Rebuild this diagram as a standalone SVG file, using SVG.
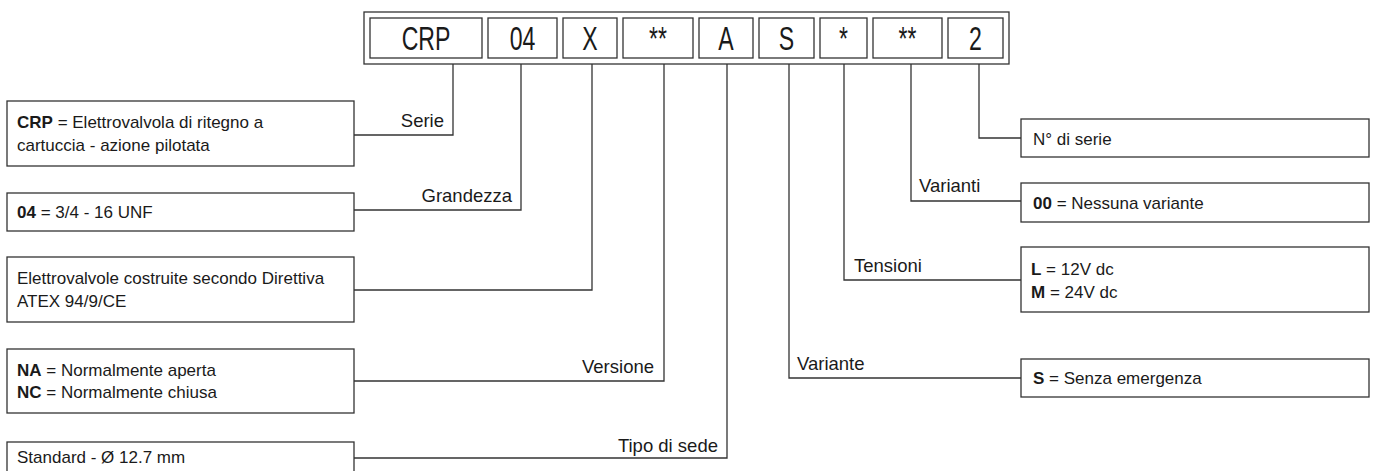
<svg xmlns="http://www.w3.org/2000/svg" width="1375" height="471" viewBox="0 0 1375 471">
<style>
.bx{fill:#fff;stroke:#333;stroke-width:1.3}
.ln{fill:none;stroke:#333;stroke-width:1.3}
.code{font-family:"Liberation Sans",Arial,sans-serif;font-size:33px;fill:#1a1a1a;text-anchor:middle}
.t{font-family:"Liberation Sans",Arial,sans-serif;font-size:17px;fill:#1a1a1a}
.lb{font-family:"Liberation Sans",Arial,sans-serif;font-size:18.5px;fill:#1a1a1a}
.e{text-anchor:end}
.b{font-weight:bold}
</style>
<rect x="0" y="0" width="1375" height="471" fill="#fff"/>
<g id="code">
<rect class="bx" x="364" y="12" width="645" height="52"/>
<rect class="bx" x="370" y="18" width="112" height="40"/>
<rect class="bx" x="488" y="18" width="69" height="40"/>
<rect class="bx" x="563" y="18" width="54" height="40"/>
<rect class="bx" x="623" y="18" width="70" height="40"/>
<rect class="bx" x="699" y="18" width="54" height="40"/>
<rect class="bx" x="759" y="18" width="55" height="40"/>
<rect class="bx" x="820" y="18" width="47" height="40"/>
<rect class="bx" x="873" y="18" width="69" height="40"/>
<rect class="bx" x="948" y="18" width="55" height="40"/>
<text class="code" transform="translate(426,50) scale(0.7,1)">CRP</text>
<text class="code" transform="translate(522.5,50) scale(0.7,1)">04</text>
<text class="code" transform="translate(590,50) scale(0.7,1)">X</text>
<text class="code" transform="translate(658,50) scale(0.7,1)">**</text>
<text class="code" transform="translate(726,50) scale(0.7,1)">A</text>
<text class="code" transform="translate(786.5,50) scale(0.7,1)">S</text>
<text class="code" transform="translate(843.5,50) scale(0.7,1)">*</text>
<text class="code" transform="translate(907.5,50) scale(0.7,1)">**</text>
<text class="code" transform="translate(975.5,50) scale(0.7,1)">2</text>
</g>
<g id="connectors">
<polyline class="ln" points="453,64 453,135 354,135"/>
<polyline class="ln" points="521,64 521,210 354,210"/>
<polyline class="ln" points="592,64 592,290 354,290"/>
<polyline class="ln" points="664,64 664,381 354,381"/>
<polyline class="ln" points="727,64 727,458 354,458"/>
<polyline class="ln" points="789,64 789,378 1021,378"/>
<polyline class="ln" points="844,64 844,280 1021,280"/>
<polyline class="ln" points="911,64 911,201 1021,201"/>
<polyline class="ln" points="979,64 979,138 1021,138"/>
<text class="lb e" x="444" y="127">Serie</text>
<text class="lb e" x="512" y="202">Grandezza</text>
<text class="lb e" x="654" y="373">Versione</text>
<text class="lb e" x="718" y="452">Tipo di sede</text>
<text class="lb" x="797" y="370">Variante</text>
<text class="lb" x="854" y="272">Tensioni</text>
<text class="lb" x="919" y="192">Varianti</text>
</g>
<g id="serie">
<rect class="bx" x="7" y="101" width="347" height="65"/>
<text class="t" x="17" y="128"><tspan class="b">CRP</tspan> = Elettrovalvola di ritegno a</text>
<text class="t" x="17" y="151">cartuccia - azione pilotata</text>
</g>
<g id="grandezza">
<rect class="bx" x="7" y="193" width="347" height="38"/>
<text class="t" x="17" y="218"><tspan class="b">04</tspan> = 3/4 - 16 UNF</text>
</g>
<g id="atex">
<rect class="bx" x="7" y="257" width="347" height="65"/>
<text class="t" x="17" y="284">Elettrovalvole costruite secondo Direttiva</text>
<text class="t" x="17" y="307">ATEX 94/9/CE</text>
</g>
<g id="versione">
<rect class="bx" x="7" y="349" width="347" height="64"/>
<text class="t" x="17" y="376"><tspan class="b">NA</tspan> = Normalmente aperta</text>
<text class="t" x="17" y="398"><tspan class="b">NC</tspan> = Normalmente chiusa</text>
</g>
<g id="sede">
<rect class="bx" x="7" y="442" width="347" height="40"/>
<text class="t" x="17" y="463">Standard - Ø 12.7 mm</text>
</g>
<g id="nserie">
<rect class="bx" x="1021" y="119" width="348" height="38"/>
<text class="t" x="1033" y="145">N° di serie</text>
</g>
<g id="varianti">
<rect class="bx" x="1021" y="183" width="348" height="39"/>
<text class="t" x="1033" y="209"><tspan class="b">00</tspan> = Nessuna variante</text>
</g>
<g id="tensioni">
<rect class="bx" x="1021" y="247" width="348" height="65"/>
<text class="t" x="1031" y="275"><tspan class="b">L</tspan> = 12V dc</text>
<text class="t" x="1031" y="298"><tspan class="b">M</tspan> = 24V dc</text>
</g>
<g id="variante">
<rect class="bx" x="1021" y="359" width="348" height="38"/>
<text class="t" x="1033" y="384"><tspan class="b">S</tspan> = Senza emergenza</text>
</g>
</svg>
